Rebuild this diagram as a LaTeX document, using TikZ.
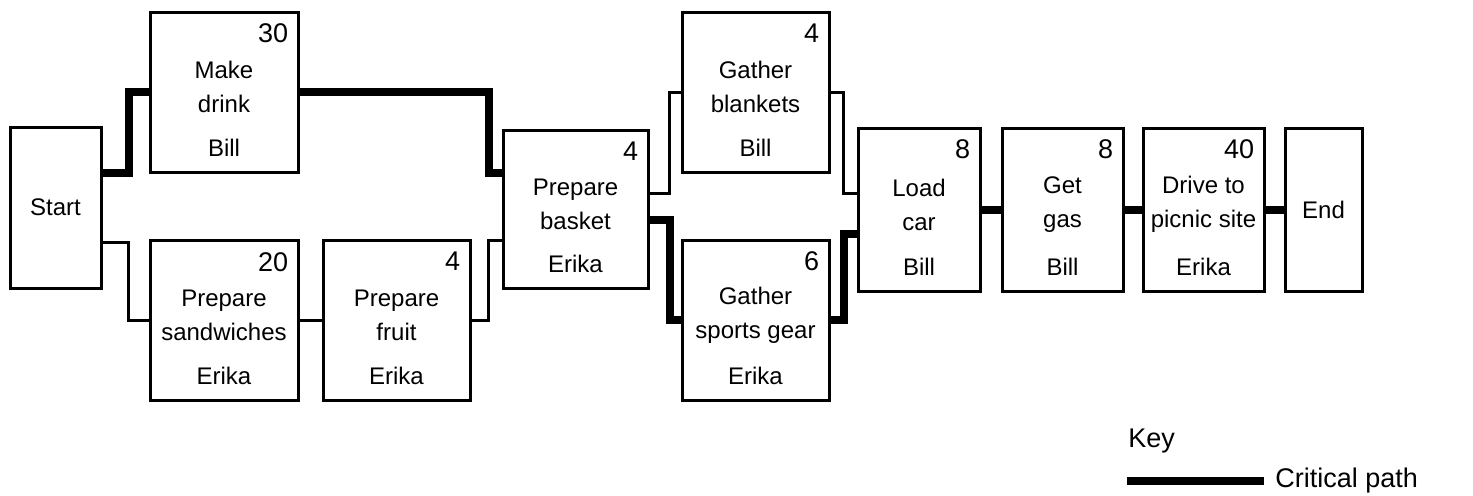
\documentclass[tikz,border=0pt]{standalone}
\usepackage{fontspec}
\setmainfont{Liberation Sans}
\usetikzlibrary{arrows.meta}

\tikzset{
  task/.style={draw, line width=1.5pt, inner sep=0pt, minimum width=74pt, minimum height=80pt},
  narrowtask/.style={task, minimum width=61pt, minimum height=81.5pt},
  dur/.style={anchor=north east, inner sep=0pt, font=\fontsize{13.5}{16}\selectfont},
  what/.style={align=center, inner sep=0pt},
  who/.style={inner sep=0pt},
  link/.style={line width=1.5pt},
  crit/.style={line width=4pt}
}

\begin{document}
\begin{tikzpicture}[x=0.5pt, y=-0.5pt, font=\fontsize{12}{17}\selectfont]
  \useasboundingbox (0,0) rectangle (1473,495);

  % Boxes
  \node[task, minimum width=45.5pt, minimum height=80.5pt] (start) at (55.5,207.5) {Start};
  \node[task] (drink) at (224,92) {};
  \node[task] (sand) at (224,320.5) {};
  \node[task, minimum width=73.5pt] (fruit) at (396.5,320.5) {};
  \node[task, minimum width=72.5pt, minimum height=79pt] (basket) at (575.5,209) {};
  \node[task, minimum width=73.5pt] (blank) at (755.5,92) {};
  \node[task, minimum width=73.5pt] (sports) at (755.5,320) {};
  \node[narrowtask] (load) at (919,209.5) {};
  \node[narrowtask, minimum width=60.5pt] (gas) at (1062.5,209.5) {};
  \node[narrowtask, minimum width=60.5pt] (drive) at (1203.5,209.5) {};
  \node[narrowtask, minimum width=38.5pt] (end) at (1323.5,209.5) {End};

  % Box texts
  \node[dur] at ([xshift=-5.5pt,yshift=-6.5pt]drink.north east) {30};
  \node[what] at ([yshift=2.5pt]drink.center) {Make\\drink};
  \node[who] at ([yshift=13pt]drink.south) {Bill};

  \node[dur] at ([xshift=-5.5pt,yshift=-6.5pt]sand.north east) {20};
  \node[what] at ([yshift=2.5pt]sand.center) {Prepare\\sandwiches};
  \node[who] at ([yshift=13pt]sand.south) {Erika};

  \node[dur] at ([xshift=-5.5pt,yshift=-6.5pt]fruit.north east) {4};
  \node[what] at ([yshift=2.5pt]fruit.center) {Prepare\\fruit};
  \node[who] at ([yshift=13pt]fruit.south) {Erika};

  \node[dur] at ([xshift=-5.5pt,yshift=-6.5pt]basket.north east) {4};
  \node[what] at ([yshift=2.5pt]basket.center) {Prepare\\basket};
  \node[who] at ([yshift=13pt]basket.south) {Erika};

  \node[dur] at ([xshift=-5.5pt,yshift=-6.5pt]blank.north east) {4};
  \node[what] at ([yshift=2.5pt]blank.center) {Gather\\blankets};
  \node[who] at ([yshift=13pt]blank.south) {Bill};

  \node[dur] at ([xshift=-5.5pt,yshift=-6.5pt]sports.north east) {6};
  \node[what] at ([yshift=2.5pt]sports.center) {Gather\\sports gear};
  \node[who] at ([yshift=13pt]sports.south) {Erika};

  \node[dur] at ([xshift=-5.5pt,yshift=-6.5pt]load.north east) {8};
  \node[what] at ([yshift=2.5pt]load.center) {Load\\car};
  \node[who] at ([yshift=13pt]load.south) {Bill};

  \node[dur] at ([xshift=-5.5pt,yshift=-6.5pt]gas.north east) {8};
  \node[what] at ([yshift=2.5pt]gas.center) {Get\\gas};
  \node[who] at ([yshift=13pt]gas.south) {Bill};

  \node[dur] at ([xshift=-5.5pt,yshift=-6.5pt]drive.north east) {40};
  \node[what] at ([yshift=2.5pt]drive.center) {Drive to\\picnic site};
  \node[who] at ([yshift=13pt]drive.south) {Erika};

  % Links
  \draw[crit] ([yshift=17.5pt]start.east) -- ++(13pt,0) |- (drink.west);
  \draw[link] ([yshift=-17.5pt]start.east) -- ++(13pt,0) |- (sand.west);
  \draw[link] (sand) -- (fruit);
  \draw[link] (fruit.east) -- ++(8.5pt,0) |- ([yshift=-15.5pt]basket.west);
  \draw[crit] (drink.east) -| ([xshift=-6.5pt,yshift=18pt]basket.west) -- ([yshift=18pt]basket.west);
  \draw[link] ([yshift=8pt]basket.east) -- ++(10pt,0) |- (blank.west);
  \draw[crit] ([yshift=-5.5pt]basket.east) -- ++(10pt,0) |- (sports.west);
  \draw[link] (blank.east) -| ([xshift=-6.5pt,yshift=8pt]load.west) -- ([yshift=8pt]load.west);
  \draw[crit] (sports.east) -| ([xshift=-6.5pt,yshift=-12pt]load.west) -- ([yshift=-12pt]load.west);
  \draw[crit] (load) -- (gas);
  \draw[crit] (gas) -- (drive);
  \draw[crit] (drive) -- (end);

  % Key
  \node[anchor=base west, inner sep=0pt, font=\fontsize{13.5}{16}\selectfont] (key) at (1128,447) {Key};
  \coordinate (keyline) at (1127,481);
  \node[anchor=west, inner sep=5.5pt, font=\fontsize{13.5}{16}\selectfont] (cpath) at (1264,481) {Critical path};
  \draw[crit] (keyline) -- (cpath.west);
\end{tikzpicture}
\end{document}
